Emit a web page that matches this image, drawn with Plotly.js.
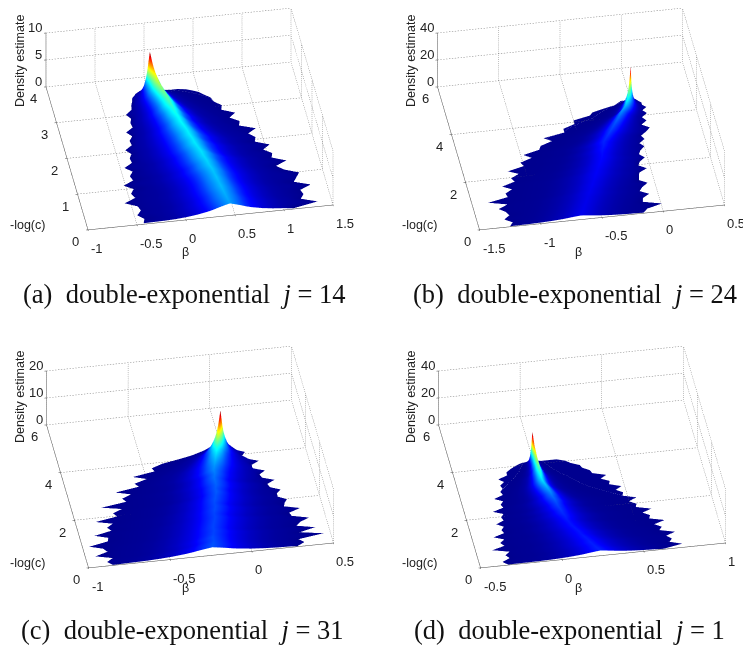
<!DOCTYPE html>
<html><head><meta charset="utf-8"><script src="https://cdn.plot.ly/plotly-3.0.1.min.js"></script>
<style>html,body{margin:0;padding:0;background:#fff}#c{width:743px;height:650px}</style></head><body><div id="c"></div>
<script>
// ---- data ----
const profileOffset=[0,.25,.5,.75,1,1.5,2,2.5,3,4,5,7];
const profileShare=[1,.88,.75,.6,.48,.3,.18,.1,.06,.025,.01,0];

const rowsA=[.02,.14,.26,.38,.5,.62,.74,.86,.98,1.1,1.22,1.34,1.46,1.58,1.7,1.82,1.94,2.06,2.18,2.3,2.42,2.54,2.66,2.78,2.9,3.02,3.14,3.26,3.36,3.44,3.5,3.55,3.58];
const leftA=[-.43,-.41,-.47,-.42,-.44,-.56,-.44,-.47,-.43,-.52,-.41,-.43,-.39,-.46,-.37,-.38,-.35,-.40,-.32,-.33,-.29,-.34,-.26,-.27,-.25,-.29,-.22,-.21,-.19,-.18,-.15,-.14,-.12];
const rightA=[1.1,1.36,1.2,1.24,1.22,1.34,1.18,1.22,1.26,1.12,1.05,1.17,1.03,1.05,.97,1.05,.91,.93,.87,.96,.8,.82,.73,.80,.67,.69,.62,.6,.54,.5,.44,.38,.3];
const ridgeA=[.45,.44,.43,.42,.41,.40,.39,.38,.37,.35,.34,.32,.31,.29,.27,.26,.24,.23,.21,.19,.18,.16,.15,.13,.12,.10,.08,.06,.05,.04,.03,.02,.015];
const heightA=[2.1,2.15,2.2,2.25,2.3,2.3,2.35,2.35,2.4,2.45,2.5,2.55,2.6,2.6,2.65,2.65,2.7,2.7,2.75,2.8,2.85,2.95,3.1,3.3,3.5,3.65,3.95,4.3,4.7,5.2,6,7,7.4];
const widthA=[.22,.22,.22,.21,.21,.21,.2,.2,.2,.2,.19,.19,.19,.18,.18,.18,.17,.17,.16,.15,.14,.13,.125,.115,.105,.095,.085,.075,.065,.055,.045,.035,.03];

const rowsB=[.02,.17,.32,.47,.62,.77,.92,1.07,1.22,1.37,1.52,1.67,1.82,1.97,2.12,2.27,2.42,2.57,2.72,2.87,3.02,3.17,3.32,3.47,3.62,3.77,3.92,4.07,4.2,4.32,4.42,4.52,4.67];
const leftB=[-1.25,-1.22,-1.28,-1.23,-1.25,-1.3,-1.22,-1.37,-1.2,-1.21,-1.15,-1.22,-1.11,-1.13,-1.06,-1.14,-1.0,-1.02,-.92,-.98,-.84,-.82,-.72,-.78,-.6,-.6,-.5,-.5,-.36,-.33,-.24,-.14,-.08];
const rightB=[-.16,-.12,.01,-.14,-.13,-.07,-.14,-.11,-.06,-.12,-.11,-.1,-.03,-.09,-.07,-.02,-.06,-.04,0,-.03,.02,0,.05,.09,.03,.08,.05,.10,.07,.11,.08,.08,.04];
const ridgeB=[-.67,-.65,-.63,-.61,-.59,-.57,-.55,-.53,-.51,-.49,-.47,-.45,-.43,-.41,-.39,-.37,-.36,-.35,-.33,-.32,-.29,-.26,-.23,-.2,-.17,-.14,-.11,-.07,-.05,-.035,-.025,-.015,0];
const heightB=[2.7,2.7,2.6,2.6,2.6,2.6,2.7,2.7,2.8,2.8,2.9,3,3,3.1,3.2,3.3,3.4,3.6,3.8,4,4.2,4.5,4.8,5.1,5.5,6,6.8,8.2,10,11.8,13.5,16,25];
const widthB=[.16,.16,.16,.16,.16,.16,.16,.15,.15,.15,.15,.15,.14,.14,.13,.13,.12,.12,.11,.11,.10,.09,.09,.08,.07,.06,.05,.04,.035,.03,.025,.018,.008];

const rowsC=[.02,.16,.3,.44,.58,.72,.86,1,1.14,1.28,1.42,1.56,1.7,1.84,1.98,2.12,2.26,2.4,2.54,2.68,2.82,2.96,3.1,3.24,3.38,3.52,3.66,3.8,3.94,4.06,4.18,4.3,4.38];
const leftC=[-.85,-.88,-.84,-.94,-.86,-.88,-.96,-.84,-.83,-.91,-.8,-.82,-.78,-.88,-.74,-.76,-.7,-.82,-.66,-.68,-.62,-.71,-.56,-.58,-.5,-.58,-.44,-.45,-.38,-.27,-.17,-.11,-.07];
const rightC=[.28,.33,.3,.46,.32,.42,.31,.34,.4,.3,.29,.36,.27,.28,.3,.25,.25,.28,.22,.21,.26,.19,.18,.22,.15,.15,.2,.13,.11,.13,.09,.07,.05];
const ridgeC=[-.24,-.23,-.22,-.22,-.21,-.2,-.2,-.19,-.18,-.17,-.17,-.16,-.15,-.15,-.14,-.13,-.12,-.12,-.11,-.11,-.11,-.1,-.1,-.09,-.08,-.07,-.06,-.05,-.04,-.03,-.02,-.01,-.005];
const heightC=[2.8,2.8,2.7,2.7,2.6,2.6,2.6,2.6,2.6,2.6,2.6,2.7,2.7,2.7,2.8,2.8,2.9,2.9,3,3.1,3.2,3.3,3.5,3.7,4,4.4,4.9,5.6,7,8.4,10.2,12.5,13.5];
const widthC=[.16,.16,.15,.15,.15,.15,.14,.14,.14,.14,.13,.13,.13,.12,.12,.12,.11,.11,.11,.11,.1,.1,.1,.095,.09,.08,.07,.06,.05,.04,.03,.022,.016];

const rowsD=[.02,.15,.28,.41,.54,.67,.8,.93,1.06,1.19,1.32,1.45,1.58,1.71,1.84,1.97,2.1,2.23,2.36,2.49,2.62,2.75,2.88,3.01,3.14,3.27,3.4,3.53,3.66,3.78,3.9,4.02,4.11];
const leftD=[-.33,-.36,-.31,-.33,-.3,-.4,-.32,-.34,-.31,-.37,-.3,-.31,-.29,-.33,-.28,-.29,-.27,-.33,-.26,-.27,-.25,-.3,-.24,-.25,-.23,-.24,-.21,-.24,-.18,-.18,-.15,-.11,-.07];
const rightD=[.62,.74,.67,.69,.66,.72,.63,.65,.61,.68,.59,.6,.56,.62,.53,.54,.5,.55,.47,.48,.44,.48,.41,.42,.37,.41,.33,.32,.28,.27,.22,.19,.14];
const ridgeD=[.235,.22,.205,.19,.18,.165,.15,.14,.125,.11,.1,.09,.085,.075,.07,.06,.055,.05,.04,.035,.025,.015,.005,0,0,0,0,0,-.002,-.002,-.004,-.005,-.006];
const heightD=[3.5,3.5,3.4,3.4,3.3,3.3,3.2,3.2,3.2,3.2,3.2,3.3,3.5,3.7,3.9,4.1,4.4,4.8,5.2,5.8,6.4,7,7.6,8.3,9.1,10,11,12.2,13.4,15,17,20,22];
const widthD=[.13,.13,.12,.12,.12,.11,.11,.11,.1,.1,.1,.09,.09,.09,.08,.08,.07,.07,.065,.055,.05,.045,.04,.036,.032,.028,.025,.02,.017,.014,.012,.01,.008];

const xTicksA=[-1,-.5,0,.5,1,1.5], yTicksA=[0,1,2,3,4], zTicksA=[0,5,10];
const xTicksB=[-1.5,-1,-.5,0,.5], yTicksB=[0,2,4,6], zTicksB=[0,20,40];
const xTicksC=[-1,-.5,0,.5], yTicksC=[0,2,4,6], zTicksC=[0,10,20];
const xTicksD=[-.5,0,.5,1], yTicksD=[0,2,4,6], zTicksD=[0,20,40];
const captions=['(a)\u00A0\u00A0double-exponential \u00A0<i>j</i> = 14','(b)\u00A0\u00A0double-exponential \u00A0<i>j</i> = 24','(c)\u00A0\u00A0double-exponential \u00A0<i>j</i> = 31','(d)\u00A0\u00A0double-exponential \u00A0<i>j</i> = 1'];

// ---- styles / layout ----
const W=743,H=650;
const jet=[[0,'rgb(0,0,143)'],[.125,'rgb(0,0,255)'],[.375,'rgb(0,255,255)'],[.625,'rgb(255,255,0)'],[.875,'rgb(255,0,0)'],[1,'rgb(128,0,0)']];
const az=-9.8*Math.PI/180, el=36*Math.PI/180, R=1, pxUnit=1/136;
const panels=[
 {id:'scene', rows:rowsA,l:leftA,r:rightA,ridge:ridgeA,h:heightA,w:widthA,xt:xTicksA,yt:yTicksA,zt:zTicksA,box:[0,0,372,272],up:17,rx:3.5},
 {id:'scene2',rows:rowsB,l:leftB,r:rightB,ridge:ridgeB,h:heightB,w:widthB,xt:xTicksB,yt:yTicksB,zt:zTicksB,box:[372,0,371,272],up:17,rx:23.5},
 {id:'scene3',rows:rowsC,l:leftC,r:rightC,ridge:ridgeC,h:heightC,w:widthC,xt:xTicksC,yt:yTicksC,zt:zTicksC,box:[0,321,372,272],up:0,rx:4},
 {id:'scene4',rows:rowsD,l:leftD,r:rightD,ridge:ridgeD,h:heightD,w:widthD,xt:xTicksD,yt:yTicksD,zt:zTicksD,box:[372,321,371,272],up:0,rx:24.5}
];
function mesh(p){
  const X=[],Y=[],Z=[];
  p.rows.forEach((y,i)=>{
    const xs=[p.l[i]],zs=[0];
    for(let k=profileOffset.length-1;k>=0;k--){const v=p.ridge[i]-p.w[i]*profileOffset[k];xs.push(Math.max(v,p.l[i]));zs.push(v<p.l[i]?0:p.h[i]*profileShare[k]);}
    for(let k=1;k<profileOffset.length;k++){const v=p.ridge[i]+p.w[i]*profileOffset[k];xs.push(Math.min(v,p.r[i]));zs.push(v>p.r[i]?0:p.h[i]*profileShare[k]);}
    xs.push(p.r[i]);zs.push(0);
    X.push(xs);Y.push(xs.map(()=>y));Z.push(zs);
  });
  return {X,Y,Z};
}
function grid(p){
  const xa=p.xt,ya=p.yt,za=p.zt,x0=xa[0],x1=xa[xa.length-1],y0=ya[0],y1=ya[ya.length-1],z0=za[0],z1=za[za.length-1];
  const x=[],y=[],z=[];
  const seg=(a,b,n)=>{for(let i=0;i<n;i++){const s=i/n,e=(i+.45)/n;x.push(a[0]+(b[0]-a[0])*s,a[0]+(b[0]-a[0])*e,null);y.push(a[1]+(b[1]-a[1])*s,a[1]+(b[1]-a[1])*e,null);z.push(a[2]+(b[2]-a[2])*s,a[2]+(b[2]-a[2])*e,null);}};
  xa.forEach(v=>{seg([v,y0,z0],[v,y1,z0],75);seg([v,y1,z0],[v,y1,z1],26);});
  ya.forEach(v=>{seg([x0,v,z0],[x1,v,z0],85);seg([x1,v,z0],[x1,v,z1],26);});
  za.forEach(v=>{seg([x0,y1,v],[x1,y1,v],85);seg([x1,y0,v],[x1,y1,v],75);});
  return {x,y,z};
}
const traces=[],layout={width:W,height:H,margin:{l:0,r:0,t:0,b:0},paper_bgcolor:'#fff',showlegend:false,annotations:[]};
const tickFont={family:'Liberation Sans',size:13,color:'#222'};
panels.forEach(p=>{
  const m=mesh(p),g=grid(p),peak=Math.max(...p.h);
  traces.push({type:'scatter3d',mode:'lines',scene:p.id,x:g.x,y:g.y,z:g.z,connectgaps:false,line:{color:'#777',width:1},hoverinfo:'skip',showlegend:false});
  traces.push({type:'surface',scene:p.id,x:m.X,y:m.Y,z:m.Z,cmin:0,cmax:peak,colorscale:jet,showscale:false,hoverinfo:'skip',
    lighting:{ambient:1,diffuse:0,specular:0,roughness:1,fresnel:0},contours:{x:{highlight:false},y:{highlight:false},z:{highlight:false}}});
  const ax=(t)=>({range:[t[0],t[t.length-1]],tickvals:t,tickmode:'array',showticklabels:false,showgrid:false,zeroline:false,showbackground:false,showspikes:false,showline:true,linecolor:'#444',linewidth:1,ticks:'outside',ticklen:2,tickcolor:'#444',title:{text:''},autorange:false});
  const r=[Math.cos(az),Math.sin(az),0],u=[-Math.sin(az)*Math.sin(el),Math.cos(az)*Math.sin(el),Math.cos(el)];
  const c=[0,1,2].map(i=>(-p.up*u[i]-p.rx*r[i])*pxUnit);
  const dir=[Math.sin(az)*Math.cos(el),-Math.cos(az)*Math.cos(el),Math.sin(el)];
  const x0=p.xt[0],y0=p.yt[0],y1=p.yt[p.yt.length-1],z0=p.zt[0];
  const notes=[
    ...p.xt.map(v=>({x:v,y:y0,z:z0,text:String(v),xanchor:'left',xshift:1,yshift:-18.5})),
    ...p.yt.map(v=>({x:x0,y:v,z:z0,text:String(v),xanchor:'center',xshift:-12.5,yshift:-12})),
    ...p.zt.map(v=>({x:x0,y:y1,z:v,text:String(v),xanchor:'right',xshift:-2,yshift:5}))
  ].map(n=>Object.assign(n,{showarrow:false,yanchor:'middle',font:tickFont}));
  layout[p.id]={domain:{x:[p.box[0]/W,(p.box[0]+p.box[2])/W],y:[1-(p.box[1]+p.box[3])/H,1-p.box[1]/H]},
    aspectmode:'manual',aspectratio:{x:1.828,y:1.815,z:.49},bgcolor:'rgba(0,0,0,0)',annotations:notes,
    xaxis:ax(p.xt),yaxis:ax(p.yt),zaxis:ax(p.zt),
    camera:{projection:{type:'orthographic'},up:{x:0,y:0,z:1},center:{x:c[0],y:c[1],z:c[2]},eye:{x:c[0]+R*dir[0],y:c[1]+R*dir[1],z:c[2]+R*dir[2]}}};
});
const capPos=[[184,294],[574.5,294],[182,630],[569.5,630]];
captions.forEach((t,i)=>layout.annotations.push({xref:'paper',yref:'paper',x:capPos[i][0]/W,y:1-capPos[i][1]/H,text:t,showarrow:false,font:{family:'Liberation Serif',size:26.5,color:'#111'},xanchor:'center',yanchor:'middle'}));
const lab=(t,x,y,a)=>layout.annotations.push({xref:'paper',yref:'paper',x:x/W,y:1-y/H,text:t,showarrow:false,textangle:a||0,font:{family:'Liberation Sans',size:12.5,color:'#222'},xanchor:'center',yanchor:'middle'});
const betaPos=[[186,252],[578,252],[186,588],[578,588]], logPos=[[27,225],[419,225],[27,563],[419,563]], densPos=[[20,61],[411,61],[20,397],[411,397]];
betaPos.forEach(b=>lab('β',b[0],b[1]));logPos.forEach(b=>lab('-log(c)',b[0],b[1]));densPos.forEach(b=>lab('Density estimate',b[0],b[1],-90));
Plotly.newPlot('c',traces,layout,{displayModeBar:false});
</script></body></html>
